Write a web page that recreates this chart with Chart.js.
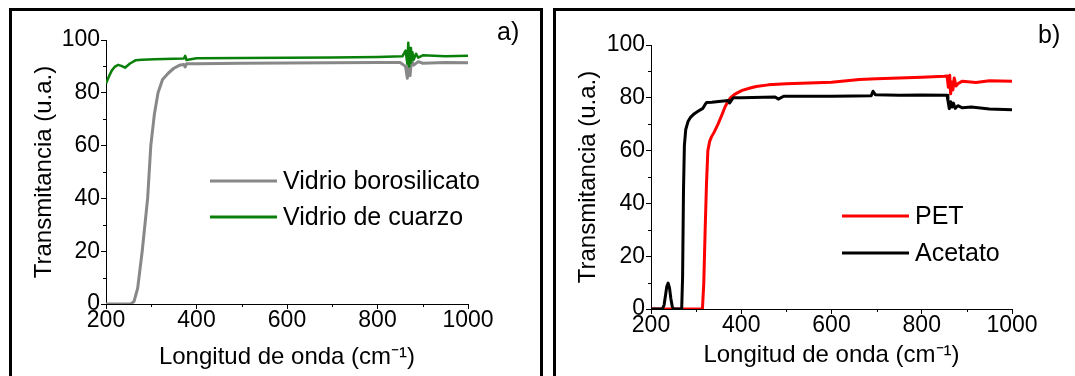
<!DOCTYPE html>
<html>
<head>
<meta charset="utf-8">
<script src="https://cdn.jsdelivr.net/npm/chart.js@4.4.0/dist/chart.umd.min.js"></script>
<style>
body { margin: 0; background: #fff; width: 1075px; height: 376px; overflow: hidden; position: relative; }
.box { position: absolute; border: 3px solid #000; box-sizing: border-box; }
#boxA { left: 9px; top: 8px; width: 534px; height: 400px; }
#boxB { left: 553px; top: 8px; width: 540px; height: 400px; }
canvas { position: absolute; top: 0; }
#chartA { left: 0; }
#chartB { left: 540px; }
</style>
</head>
<body>
<div class="box" id="boxA"></div>
<div class="box" id="boxB"></div>
<canvas id="chartA" width="540" height="376"></canvas>
<canvas id="chartB" width="535" height="376"></canvas>
<script>
// panel a) - vidrios
const boroX = [200, 255, 262, 270, 280, 292, 299, 307, 315, 325, 338, 350, 362, 372, 375, 378, 400, 500, 600, 700, 800, 850, 862, 866, 869, 872, 875, 880, 890, 900, 950, 1000];
const boroY = [0, 0, 1, 6, 20, 40, 60, 72, 80, 85, 87.5, 89.3, 90.4, 90.7, 89.8, 91, 91, 91.2, 91.3, 91.4, 91.5, 91.5, 90, 85.5, 94, 86.5, 92.5, 90.5, 91.8, 91.2, 91.5, 91.4];
const quartzX = [200, 207, 213, 219, 227, 234, 242, 253, 265, 280, 307, 350, 372, 375, 378, 400, 500, 600, 700, 800, 855, 862, 866, 868, 870, 872, 874, 877, 880, 885, 890, 900, 950, 1000];
const quartzY = [83.5, 86.4, 88.5, 89.8, 90.6, 90.2, 89.5, 91.1, 92.3, 92.5, 92.7, 92.9, 93, 94, 92.4, 93.1, 93.2, 93.3, 93.4, 93.6, 93.8, 96, 91, 99, 90, 97, 91.5, 95.5, 92.5, 94.8, 93.3, 94.2, 93.8, 94];

// panel b) - polimeros
const petX = [200, 314, 317, 320, 323, 326, 330, 334, 340, 349, 357, 364, 370, 376, 385, 402, 420, 433, 460, 500, 550, 600, 662, 700, 750, 800, 850, 856, 859, 862, 864, 866, 869, 872, 876, 880, 890, 920, 950, 1000];
const petY = [0, 0, 10, 30, 47.5, 60, 63.5, 65.2, 67, 70.2, 73.5, 76.5, 78.5, 80, 81.3, 82.8, 83.7, 84.3, 84.9, 85.3, 85.6, 85.9, 86.9, 87.2, 87.5, 87.8, 88.2, 88.3, 84, 88.5, 81.5, 86, 83, 87.5, 84.5, 85.3, 86.3, 85.8, 86.5, 86.3];
const aceX = [200, 225, 229, 232, 235, 238, 241, 244, 247, 250, 268, 270, 272, 274, 277, 282, 288, 296, 305, 315, 320, 323, 335, 350, 372, 374, 380, 383, 400, 450, 475, 482, 494, 550, 600, 650, 688, 692, 697, 750, 800, 856, 858, 861, 864, 867, 870, 874, 880, 890, 910, 950, 1000];
const aceY = [0, 0, 1.5, 5, 8.5, 9.8, 8, 4, 1, 0, 0, 12, 45, 62, 68, 71, 72.7, 74, 75, 76, 77.5, 78.2, 78.3, 78.6, 79, 78, 79.5, 80, 80, 80.2, 80.3, 79.5, 80.6, 80.6, 80.6, 80.7, 80.8, 82.5, 81.2, 81, 81.1, 81, 79, 75.9, 78.5, 76.5, 78, 76, 77, 76.2, 76.5, 75.8, 75.5];

const xTicks = [200, 400, 600, 800, 1000];
const yTicks = [0, 20, 40, 60, 80, 100];
const xMinor = [300, 500, 700, 900];
const yMinor = [10, 30, 50, 70, 90];

const FONT = "'Liberation Sans', Arial, sans-serif";

function pts(xs, ys) {
    return xs.map((x, i) => ({ x: x, y: ys[i] }));
}

// legend, panel letter and minor ticks
const extras = {
    id: 'extras',
    afterDraw(chart, args, opts) {
        const ctx = chart.ctx;
        const xs = chart.scales.x, ys = chart.scales.y;
        ctx.save();
        ctx.strokeStyle = '#000';
        ctx.lineWidth = 1;
        xMinor.forEach(v => {
            const px = Math.round(xs.getPixelForValue(v)) + 0.5;
            ctx.beginPath(); ctx.moveTo(px, ys.bottom); ctx.lineTo(px, ys.bottom + 3); ctx.stroke();
        });
        yMinor.forEach(v => {
            const py = Math.round(ys.getPixelForValue(v)) + 0.5;
            ctx.beginPath(); ctx.moveTo(xs.left, py); ctx.lineTo(xs.left - 3, py); ctx.stroke();
        });
        ctx.font = '25px ' + FONT;
        ctx.fillStyle = '#000';
        ctx.textBaseline = 'middle';
        chart.data.datasets.forEach((ds, i) => {
            const y = opts.legendY + i * opts.legendGap;
            ctx.strokeStyle = ds.borderColor;
            ctx.lineWidth = 3;
            ctx.beginPath(); ctx.moveTo(opts.legendX, y); ctx.lineTo(opts.legendX + 67, y); ctx.stroke();
            ctx.fillText(ds.label, opts.legendX + 73, y + 1);
        });
        ctx.fillText(opts.letter, opts.letterX, opts.letterY);
        ctx.restore();
    }
};

function makeChart(id, datasets, lay, extra) {
    return new Chart(document.getElementById(id), {
        type: 'line',
        data: { datasets: datasets },
        options: {
            responsive: false,
            animation: false,
            layout: { padding: lay.padding },
            elements: { point: { radius: 0 }, line: { tension: 0, borderJoinStyle: 'round' } },
            plugins: { legend: { display: false }, tooltip: { enabled: false }, extras: extra },
            scales: {
                x: {
                    type: 'linear', min: 200, max: 1000,
                    afterBuildTicks: s => { s.ticks = xTicks.map(v => ({ value: v })); },
                    afterFit: s => { s.height = lay.xh; },
                    ticks: { color: '#000', font: { family: FONT, size: 23 }, padding: -2, maxRotation: 0, callback: v => String(v) },
                    grid: { drawOnChartArea: false, tickLength: 5, color: '#000', lineWidth: 1 },
                    border: { color: '#000', width: 1 },
                    title: { display: true, text: 'Longitud de onda (cm\u207B\u00B9)', color: '#000', font: { family: FONT, size: 24 }, padding: { top: 0, bottom: lay.titlePad } }
                },
                y: {
                    min: 0, max: 100,
                    afterBuildTicks: s => { s.ticks = yTicks.map(v => ({ value: v })); },
                    afterFit: s => { s.width = lay.yw; },
                    ticks: { color: '#000', font: { family: FONT, size: 23 }, padding: 1, callback: v => String(v) },
                    grid: { drawOnChartArea: false, tickLength: 5, color: '#000', lineWidth: 1 },
                    border: { color: '#000', width: 1 },
                    title: { display: true, text: 'Transmitancia (u.a.)', color: '#000', font: { family: FONT, size: 24 }, padding: 0 }
                }
            }
        },
        plugins: [extras]
    });
}

makeChart('chartA', [
    { label: 'Vidrio borosilicato', data: pts(boroX, boroY), borderColor: '#888888', borderWidth: 3, order: 2 },
    { label: 'Vidrio de cuarzo', data: pts(quartzX, quartzY), borderColor: '#0a800a', borderWidth: 2.5, order: 1 }
], { padding: { left: 30, top: 40, right: 72, bottom: 0 }, yw: 76, xh: 72, titlePad: 4 },
   { legendX: 210, legendY: 181, legendGap: 36, letter: 'a)', letterX: 497, letterY: 33 });

makeChart('chartB', [
    { label: 'PET', data: pts(petX, petY), borderColor: '#ff0000', borderWidth: 3, order: 2 },
    { label: 'Acetato', data: pts(aceX, aceY), borderColor: '#000000', borderWidth: 3, order: 1 }
], { padding: { left: 34, top: 45, right: 63, bottom: 0 }, yw: 77, xh: 67, titlePad: 6 },
   { legendX: 302, legendY: 216, legendGap: 37, letter: 'b)', letterX: 498, letterY: 36 });
</script>
</body>
</html>
